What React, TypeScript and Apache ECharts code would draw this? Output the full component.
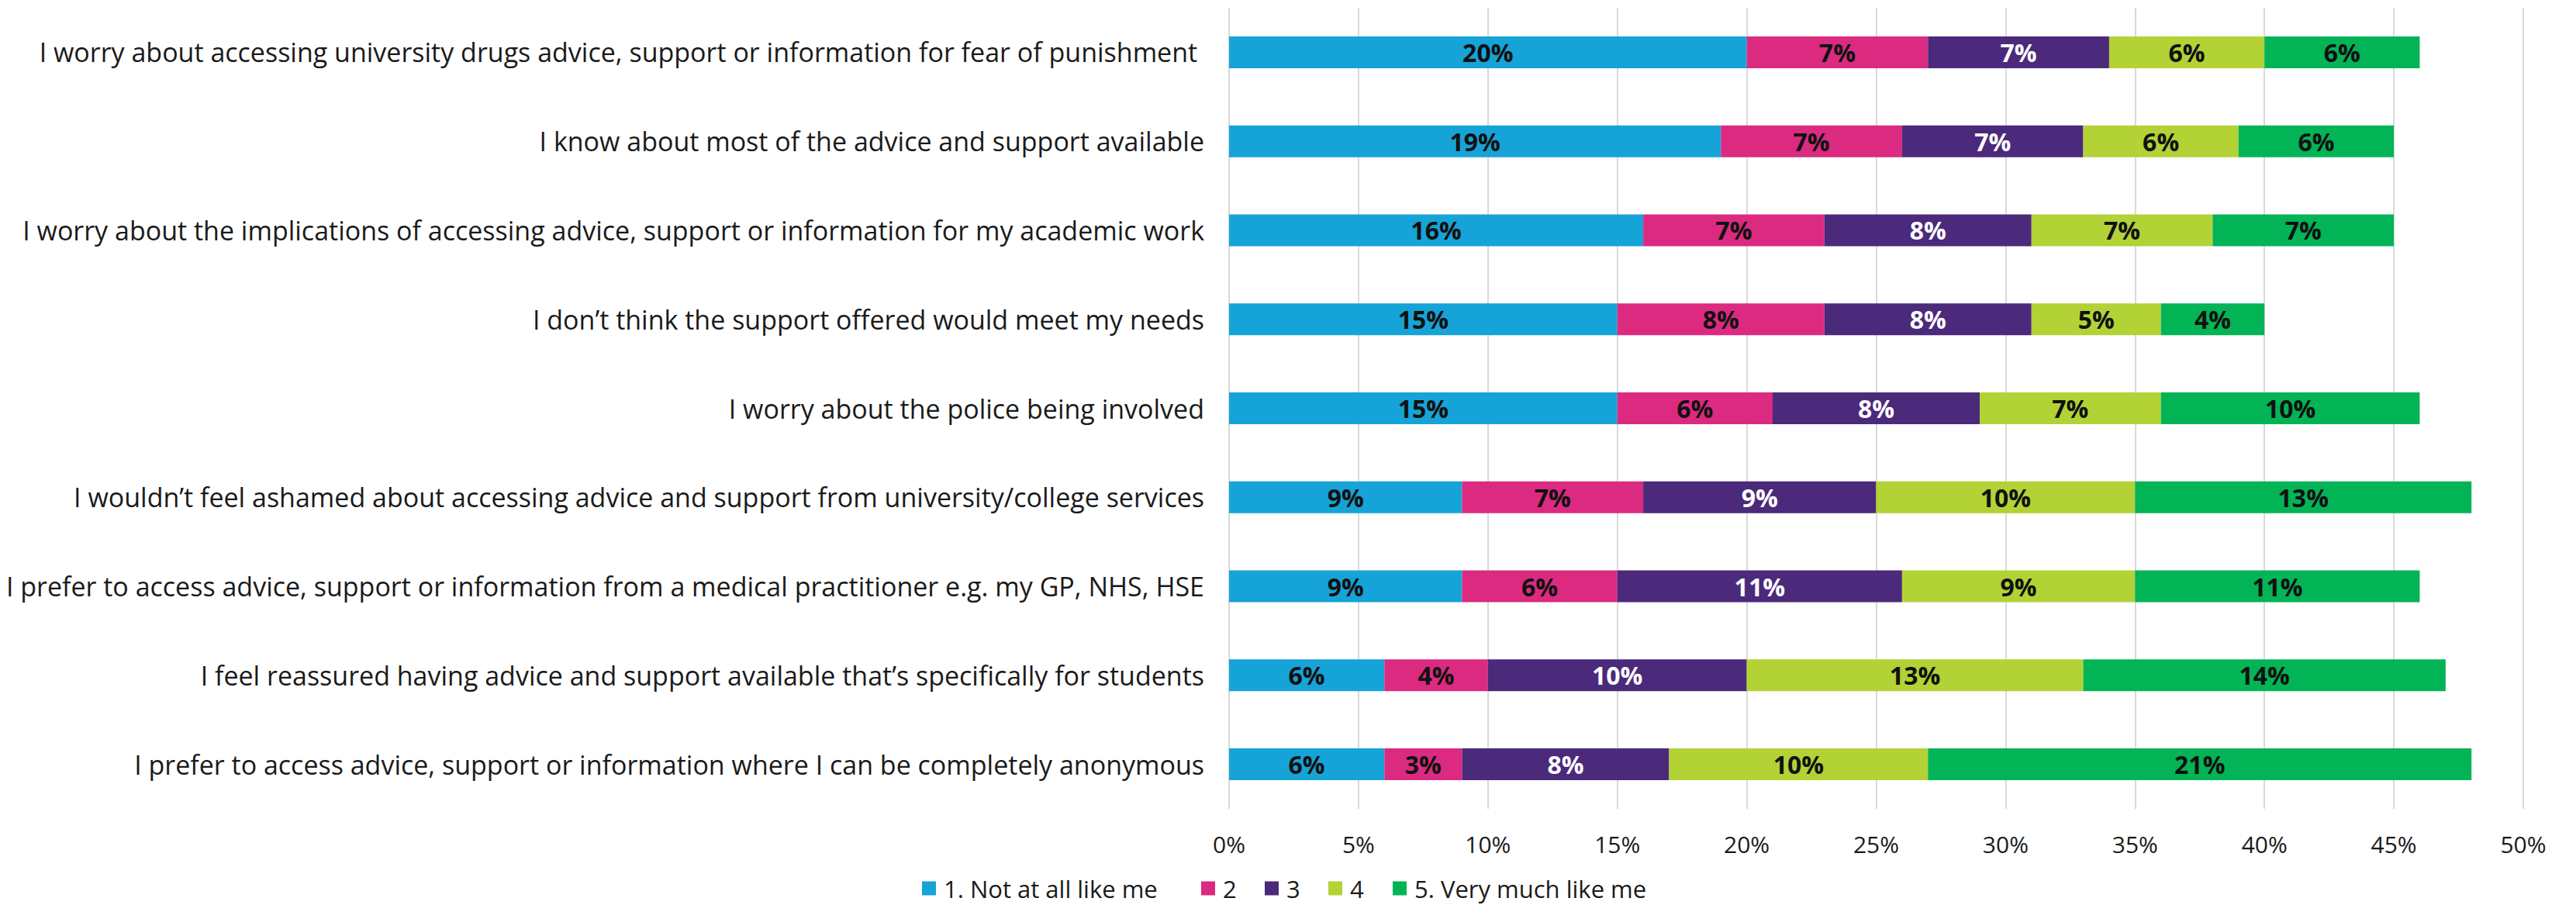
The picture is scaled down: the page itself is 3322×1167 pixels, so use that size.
import React, { useEffect, useRef } from "react";
import * as echarts from "echarts";

const categories = [
  "I worry about accessing university drugs advice, support or information for fear of punishment ",
  "I know about most of the advice and support available",
  "I worry about the implications of accessing advice, support or information for my academic work",
  "I don\u2019t think the support offered would meet my needs",
  "I worry about the police being involved",
  "I wouldn\u2019t feel ashamed about accessing advice and support from university/college services",
  "I prefer to access advice, support or information from a medical practitioner e.g. my GP, NHS, HSE",
  "I feel reassured having advice and support available that\u2019s specifically for students",
  "I prefer to access advice, support or information where I can be completely anonymous",
];

const seriesNames = ["1. Not at all like me", "2", "3", "4", "5. Very much like me"];
const notAtAll = [20, 19, 16, 15, 15, 9, 9, 6, 6];
const two = [7, 7, 7, 8, 6, 7, 6, 4, 3];
const three = [7, 7, 8, 8, 8, 9, 11, 10, 8];
const four = [6, 6, 7, 5, 7, 10, 9, 13, 10];
const veryMuch = [6, 6, 7, 4, 10, 13, 11, 14, 21];
const seriesValues = [notAtAll, two, three, four, veryMuch];
const colors = ["#16A3D7", "#DB2A80", "#4B297B", "#B2D235", "#03B456"];
const labelColors = ["#111111", "#111111", "#ffffff", "#111111", "#111111"];
const xTicks = { min: 0, max: 50, interval: 5 };

const FONT = "Open Sans";
const legendLefts = [1189, 1549, 1631, 1713, 1796];

export default function App() {
  const ref = useRef<HTMLDivElement>(null);
  useEffect(() => {
    if (!ref.current) return;
    const chart = echarts.init(ref.current, null, { renderer: "svg" });
    chart.setOption({
      animation: false,
      backgroundColor: "#ffffff",
      textStyle: { fontFamily: FONT },
      grid: { left: 1585, right: 68, top: 10, bottom: 124, containLabel: false },
      legend: seriesNames.map((n, i) => ({
        data: [n],
        left: legendLefts[i],
        top: 1130,
        itemWidth: 18,
        itemHeight: 18,
        icon: "rect",
        padding: 0,
        textStyle: {
          fontFamily: FONT,
          fontSize: 31,
          lineHeight: 31,
          color: "#1a1a1a",
          padding: [0, 0, 0, 5],
        },
      })),
      xAxis: {
        type: "value",
        min: xTicks.min,
        max: xTicks.max,
        interval: xTicks.interval,
        axisLabel: {
          formatter: "{value}%",
          fontFamily: FONT,
          fontSize: 30,
          color: "#1a1a1a",
          margin: 30,
        },
        axisLine: { show: false },
        axisTick: { show: false },
        splitLine: { show: true, lineStyle: { color: "#d9d9d9", width: 2 } },
      },
      yAxis: {
        type: "category",
        inverse: true,
        data: categories,
        axisLine: { show: false },
        axisTick: { show: false },
        axisLabel: { fontFamily: FONT, fontSize: 34, color: "#1a1a1a", margin: 32 },
      },
      series: seriesValues.map((vals, i) => ({
        name: seriesNames[i],
        type: "bar",
        stack: "total",
        barWidth: 41,
        data: vals,
        itemStyle: { color: colors[i] },
        label: {
          show: true,
          position: "inside",
          formatter: "{c}%",
          fontFamily: FONT,
          fontWeight: "bold",
          fontSize: 32,
          color: labelColors[i],
        },
      })),
    });
    return () => chart.dispose();
  }, []);
  return (
    <div
      ref={ref}
      style={{ position: "fixed", left: 0, top: 0, width: 3322, height: 1167 }}
    />
  );
}
